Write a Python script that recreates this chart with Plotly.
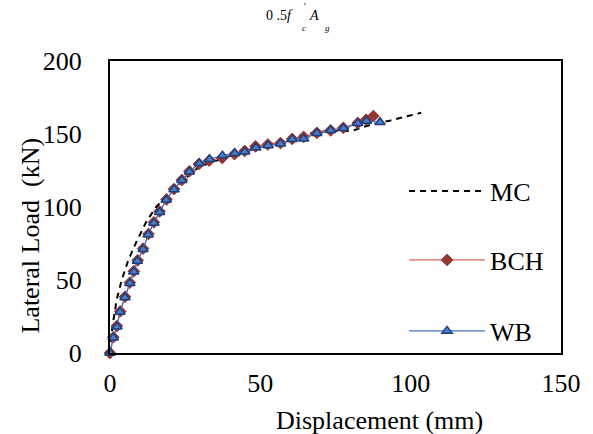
import plotly.graph_objects as go

# Pushover curves: lateral load vs. top displacement
mc_x = [0, 0.8, 2.2, 3.9, 6.1, 8.8, 12.1, 15.4, 19.3, 23.7, 29.7, 35.8, 42.4,
        50.1, 56.7, 64.4, 73.2, 80.4, 86.4, 93.0, 103.5]
mc_y = [0, 18.0, 36.3, 50.0, 63.7, 76.2, 90.0, 100.2, 108.2, 117.3, 127.6, 132.2,
        136.8, 141.3, 144.7, 149.7, 152.3, 152.1, 156.2, 159.1, 164.6]

bch_x = [0, 1.1, 2.3, 3.4, 5.0, 6.6, 7.9, 9.2, 11.0, 12.8, 14.6, 16.5, 18.8, 21.3,
         23.9, 26.4, 29.6, 33.0, 37.3, 41.4, 44.8, 48.4, 52.5, 56.7, 60.6, 64.4,
         68.8, 73.4, 77.6, 82.4, 85.2, 87.6]
bch_y = [0, 10.8, 18.5, 28.5, 38.5, 48.2, 56.0, 63.5, 71.5, 81.5, 89.5, 97.0, 105.2,
         112.3, 118.5, 124.5, 129.5, 131.8, 133.6, 136.2, 138.4, 141.5, 142.8, 143.8,
         146.6, 148.0, 150.8, 152.5, 154.2, 157.6, 159.8, 162.3]

wb_x = [0, 1.1, 2.3, 3.3, 5.0, 6.6, 7.9, 9.1, 11.0, 12.7, 14.6, 16.5, 18.7, 21.3,
        23.9, 26.4, 29.7, 33.1, 37.4, 41.5, 44.8, 48.5, 52.6, 56.7, 60.6, 64.4,
        68.8, 73.4, 77.6, 82.4, 85.3, 89.8]
wb_y = [0, 10.5, 18.0, 28.0, 38.0, 47.7, 55.7, 63.0, 71.0, 81.0, 89.0, 96.4, 104.8,
        112.0, 118.3, 124.2, 130.0, 132.7, 135.2, 136.8, 137.9, 140.6, 142.2, 143.4,
        146.4, 146.8, 150.5, 152.5, 153.9, 157.3, 158.9, 158.0]

x_ticks = [0, 50, 100, 150]
y_ticks = [0, 50, 100, 150, 200]

FONT = "Liberation Serif, Times New Roman, serif"
W, H = 593, 434
ML, MR, MT, MB = 110, 29, 61, 81
PW, PH = W - ML - MR, H - MT - MB


def px(x):
    return (x - ML) / PW


def py(y):
    return (H - MB - y) / PH


fig = go.Figure()

fig.add_trace(go.Scatter(
    x=mc_x, y=mc_y, mode="lines", name="MC", legend="legend",
    line=dict(color="black", width=2, dash="6px,5px"), cliponaxis=False))

fig.add_trace(go.Scatter(
    x=bch_x, y=bch_y, mode="lines+markers", name="BCH", legend="legend2",
    line=dict(color="#E06666", width=1.2),
    marker=dict(symbol="diamond", size=9, color="#953735",
                line=dict(color="#953735", width=1)),
    cliponaxis=False))

fig.add_trace(go.Scatter(
    x=wb_x, y=wb_y, mode="lines+markers", name="WB", legend="legend3",
    line=dict(color="#4472C4", width=1.2),
    marker=dict(symbol="triangle-up", size=9, color="#4A7CC8",
                line=dict(color="#1F3F7A", width=1.5)),
    cliponaxis=False))

axis_common = dict(showgrid=False, zeroline=False, showline=True, mirror=True,
                   linecolor="black", linewidth=2, ticks="",
                   tickfont=dict(family=FONT, size=26, color="black"))

fig.update_xaxes(range=[0, 150], tickvals=x_ticks, ticklabelstandoff=6, **axis_common)
fig.update_yaxes(range=[0, 200], tickvals=y_ticks, ticklabelstandoff=21, **axis_common)

legend_common = dict(font=dict(family=FONT, size=26, color="black"),
                     bgcolor="rgba(0,0,0,0)", itemwidth=76, visible=True,
                     xanchor="left", yanchor="middle", x=px(406))

annotations = [
    dict(text="Displacement (mm)", x=px(381), y=py(420),
         font=dict(family=FONT, size=26, color="black")),
    dict(text="Lateral Load&nbsp; (kN)", x=px(29), y=py(236), textangle=-90,
         font=dict(family=FONT, size=26, color="black")),
    # title: 0.5 f'c Ag
    dict(text="0 .5<i>f</i>", x=px(265), y=py(15), xanchor="left",
         font=dict(family=FONT, size=14, color="black")),
    dict(text="<i>c</i>", x=px(305), y=py(28),
         font=dict(family=FONT, size=9, color="black")),
    dict(text="'", x=px(306), y=py(7),
         font=dict(family=FONT, size=10, color="black")),
    dict(text="<i>A</i>", x=px(315), y=py(15),
         font=dict(family=FONT, size=14, color="black")),
    dict(text="<i>g</i>", x=px(329), y=py(28),
         font=dict(family=FONT, size=9, color="black")),
]
for a in annotations:
    a.setdefault("xref", "paper")
    a.setdefault("yref", "paper")
    a.setdefault("xanchor", "center")
    a.setdefault("yanchor", "middle")
    a.setdefault("showarrow", False)

fig.update_layout(
    width=W, height=H,
    margin=dict(l=ML, r=MR, t=MT, b=MB, pad=0),
    paper_bgcolor="white", plot_bgcolor="white",
    font=dict(family=FONT, size=26, color="black"),
    showlegend=True,
    legend=dict(y=py(191), **legend_common),
    legend2=dict(y=py(260), **legend_common),
    legend3=dict(y=py(331), **legend_common),
    annotations=annotations,
)

fig.write_html("out.html")
